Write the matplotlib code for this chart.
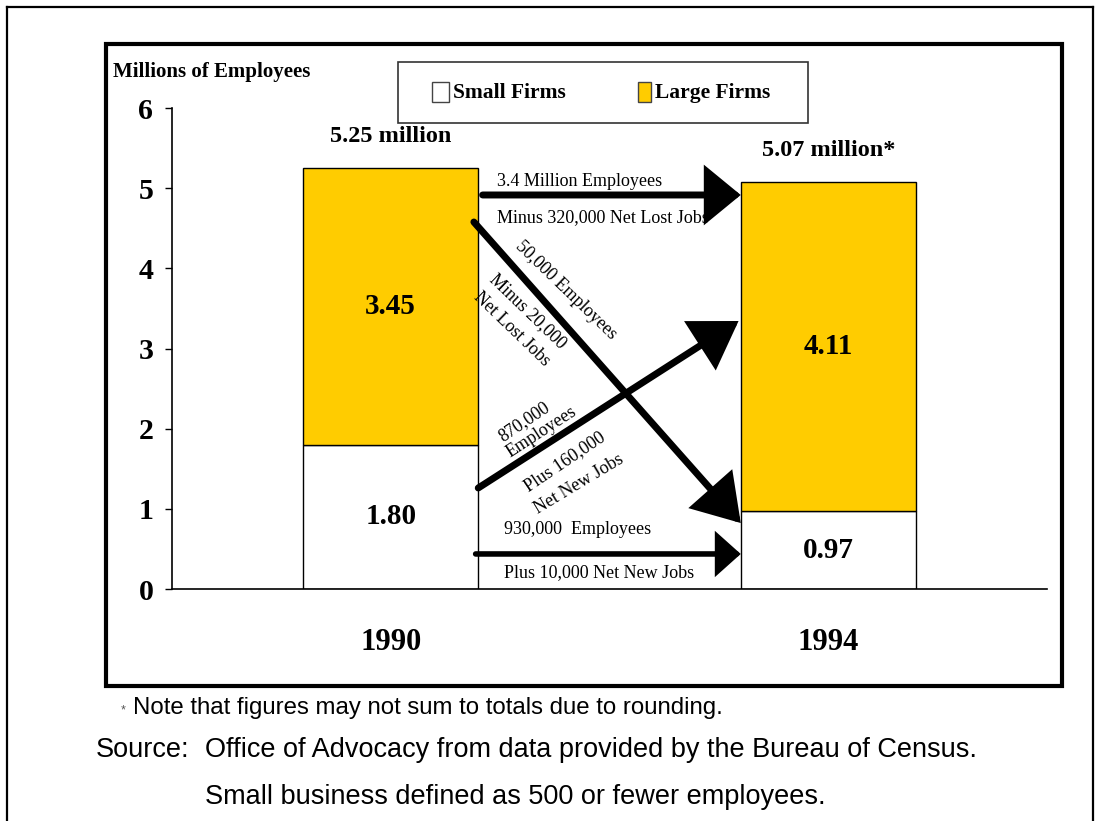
import matplotlib
matplotlib.use("Agg")
import matplotlib.pyplot as plt
from matplotlib.patches import Rectangle, FancyArrowPatch, ArrowStyle
from matplotlib.lines import Line2D

# ---------------- data ----------------
years = ["1990", "1994"]
small_firms = [1.80, 0.97]
large_firms = [3.45, 4.11]
totals = [5.25, 5.07]
total_labels = ["5.25 million", "5.07 million*"]
series_names = ["Small Firms", "Large Firms"]
y_ticks = [0, 1, 2, 3, 4, 5, 6]
flow_top = ["3.4 Million Employees", "Minus 320,000 Net Lost Jobs"]
flow_down = ["50,000 Employees", "Minus 20,000", "Net Lost Jobs"]
flow_up = ["870,000", "Employees", "Plus 160,000", "Net New Jobs"]
flow_bottom = ["930,000  Employees", "Plus 10,000 Net New Jobs"]

SERIF = ["Liberation Serif", "DejaVu Serif"]
SANS = ["Liberation Sans", "DejaVu Sans"]
YELLOW = "#FFCC00"

W, H = 1095, 821
fig = plt.figure(figsize=(W / 100, H / 100), dpi=100)
fig.patch.set_facecolor("white")


def fx(px):
    return px / W


def fy(py):
    return 1 - py / H


# outer frame (top, left, right)
for (x0, y0, x1, y1) in [(7, 7, 1093, 7), (7, 7, 7, 830), (1093, 7, 1093, 830)]:
    fig.add_artist(Line2D([fx(x0), fx(x1)], [fy(y0), fy(y1)], color="black",
                          lw=1.6, transform=fig.transFigure))
# inner thick frame
fig.add_artist(Rectangle((fx(106), fy(686)), fx(1062) - fx(106), fy(44) - fy(686),
                         transform=fig.transFigure, fill=False, lw=3.0,
                         edgecolor="black"))

ax = fig.add_axes([fx(172), fy(589), fx(1047) - fx(172), fy(108) - fy(589)])
ax.set_xlim(-0.5, 1.5)
ax.set_ylim(0, 6)

x = list(range(len(years)))
bw = 0.4
ax.bar(x, small_firms, width=bw, color="white", edgecolor="black", lw=1.0, zorder=2)
ax.bar(x, large_firms, width=bw, bottom=small_firms, color=YELLOW,
       edgecolor="black", lw=1.0, zorder=2)

for xi, s, l, t, tl in zip(x, small_firms, large_firms, totals, total_labels):
    ax.text(xi, s / 2, f"{s:.2f}", ha="center", va="center", fontsize=21,
            fontweight="bold", family=SERIF)
    ax.text(xi, s + l / 2, f"{l:.2f}", ha="center", va="center", fontsize=21,
            fontweight="bold", family=SERIF)
    ax.text(xi, t + 0.4, tl, ha="center", va="center", fontsize=17.5,
            fontweight="bold", family=SERIF)

# axes styling
for side in ["top", "right"]:
    ax.spines[side].set_visible(False)
ax.spines["left"].set_linewidth(1.2)
ax.spines["bottom"].set_linewidth(1.2)
ax.set_yticks(y_ticks)
ax.set_yticklabels([str(v) for v in y_ticks], fontsize=21.5, fontweight="bold",
                   family=SERIF)
ax.tick_params(axis="y", length=5, width=1.0, pad=8.5)
ax.set_xticks(x)
ax.set_xticklabels(years, fontsize=22, fontweight="bold", family=SERIF)
ax.tick_params(axis="x", length=0, pad=28)
ax.patch.set_alpha(0)

# arrows


def arrow(p0, p1, hl, hw, lw=5.0):
    st = ArrowStyle("-|>", head_length=hl / 1.389 / 10, head_width=hw / 2 / 1.389 / 10)
    a = FancyArrowPatch(p0, p1, arrowstyle=st, mutation_scale=10, lw=lw,
                        color="black", shrinkA=0, shrinkB=0, zorder=5,
                        joinstyle="miter", capstyle="round")
    ax.add_patch(a)


arrow((0.21, 4.915), (0.80, 4.915), 28, 46)
arrow((0.19, 4.578), (0.80, 0.823), 36, 46)
arrow((0.20, 1.26), (0.795, 3.343), 36, 46)
arrow((0.194, 0.437), (0.80, 0.437), 19, 34, lw=4.0)

AF = 13
ax.text(0.242, 5.077, flow_top[0], ha="left", va="center", fontsize=AF, family=SERIF)
ax.text(0.242, 4.628, flow_top[1], ha="left", va="center", fontsize=AF, family=SERIF)
ax.text(0.26, 0.736, flow_bottom[0], ha="left", va="center", fontsize=AF, family=SERIF)
ax.text(0.26, 0.20, flow_bottom[1], ha="left", va="center", fontsize=AF, family=SERIF)

for txt, (tx, ty), rot in zip(flow_down, [(0.400, 3.73), (0.313, 3.468), (0.276, 3.243)],
                              [-44, -44, -44]):
    ax.text(tx, ty, txt, ha="center", va="center", rotation=rot,
            rotation_mode="anchor", fontsize=AF, family=SERIF)
for txt, (tx, ty), rot in zip(flow_up, [(0.304, 2.083), (0.345, 1.958), (0.398, 1.584),
                                        (0.430, 1.31)], [34, 33, 34, 31]):
    ax.text(tx, ty, txt, ha="center", va="center", rotation=rot,
            rotation_mode="anchor", fontsize=AF, family=SERIF)

# y label
fig.text(fx(113), fy(72), "Millions of Employees", ha="left", va="center",
         fontsize=15, fontweight="bold", family=SERIF)

# legend (manual)
fig.add_artist(Rectangle((fx(398), fy(123)), fx(808) - fx(398), fy(62) - fy(123),
                         transform=fig.transFigure, fill=False, lw=1.2,
                         edgecolor="#333333"))
for (sx0, sx1), col, name, tx in zip([(432, 449), (638, 651)], ["white", YELLOW],
                                     series_names, [453, 655]):
    fig.add_artist(Rectangle((fx(sx0), fy(102)), fx(sx1) - fx(sx0), fy(82) - fy(102),
                             transform=fig.transFigure, facecolor=col,
                             edgecolor="#444444", lw=1.0))
    fig.text(fx(tx), fy(93), name, ha="left", va="center", fontsize=15.5,
             fontweight="bold", family=SERIF)

# footnotes
fig.text(fx(121), fy(710), "*", ha="left", va="center", fontsize=9, color="#555555",
         family=SANS)
fig.text(fx(133), fy(708), "Note that figures may not sum to totals due to rounding.",
         ha="left", va="center", fontsize=17.3, family=SANS)
fig.text(fx(96), fy(750), "Source:", ha="left", va="center", fontsize=19.5, family=SANS)
fig.text(fx(205), fy(750), "Office of Advocacy from data provided by the Bureau of Census.",
         ha="left", va="center", fontsize=19.5, family=SANS)
fig.text(fx(205), fy(797), "Small business defined as 500 or fewer employees.",
         ha="left", va="center", fontsize=19.5, family=SANS)

fig.savefig("out.png", dpi=100)
